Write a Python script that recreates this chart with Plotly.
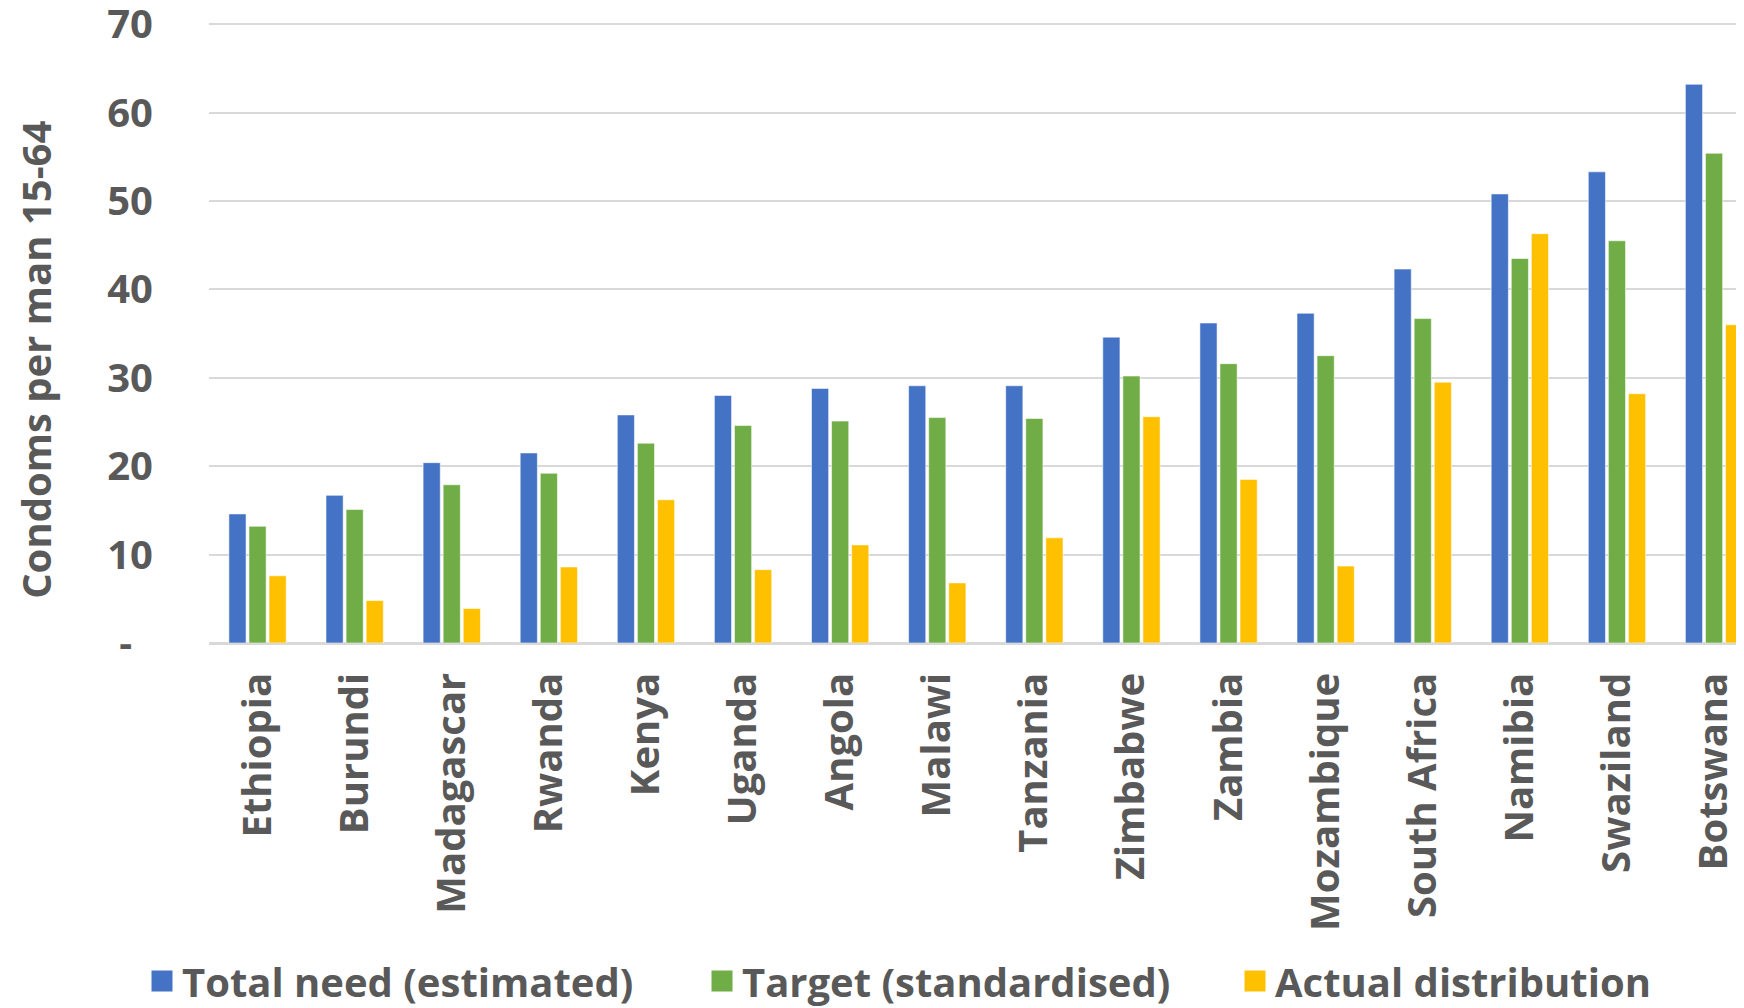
import plotly.graph_objects as go

countries = ["Ethiopia", "Burundi", "Madagascar", "Rwanda", "Kenya", "Uganda", "Angola",
             "Malawi", "Tanzania", "Zimbabwe", "Zambia", "Mozambique", "South Africa",
             "Namibia", "Swaziland", "Botswana"]
total_need = [14.6, 16.7, 20.4, 21.5, 25.8, 28.0, 28.8, 29.1, 29.1, 34.6, 36.2, 37.3, 42.3, 50.8, 53.3, 63.2]
target = [13.2, 15.1, 17.9, 19.2, 22.6, 24.6, 25.1, 25.5, 25.4, 30.2, 31.6, 32.5, 36.7, 43.5, 45.5, 55.4]
actual = [7.6, 4.8, 3.9, 8.6, 16.2, 8.3, 11.1, 6.8, 11.9, 25.6, 18.5, 8.7, 29.5, 46.3, 28.2, 36.0]

series_names = ["Total need (estimated)", "Target (standardised)", "Actual distribution"]
series_colors = ["#4472C4", "#70AD47", "#FFC000"]
y_tickvals = [0, 10, 20, 30, 40, 50, 60, 70]
y_ticktext = ["-\u00a0\u00a0", "10", "20", "30", "40", "50", "60", "70"]

# the page body keeps an 8px margin, so the figure is sized to fill the rest of the window
W, H = 1736, 1000
TEXT = "#595959"
FONT = "Open Sans"

fig = go.Figure()
for name, vals, col in zip(series_names, [total_need, target, actual], series_colors):
    fig.add_trace(go.Bar(
        x=countries, y=vals, name=name, showlegend=False,
        marker=dict(color=col, line=dict(color="rgba(255,255,255,0.55)", width=1)),
    ))

legend_x = [134, 694, 1227]
legend_keys = ["legend", "legend2", "legend3"]
for name, col, key in zip(series_names, series_colors, legend_keys):
    fig.add_trace(go.Scatter(
        x=[None], y=[None], mode="markers", name=name, legend=key, showlegend=True,
        marker=dict(symbol="square", size=16, color=col, line=dict(color=col, width=5)),
    ))

plot_left = 201
plot_bottom = 635
y_top_val = 70.25
px_per_unit = (635 - 16.5) / 70
plot_top = 16.5 - (y_top_val - 70) * px_per_unit
cat_w = 97.1
right_val = -0.5 + (W - plot_left) / cat_w

legend_common = dict(orientation="h", xref="container", yref="container",
                     xanchor="left", yanchor="middle", y=1 - 973 / H,
                     font=dict(family=FONT, size=40, color=TEXT, weight="bold"),
                     bgcolor="rgba(0,0,0,0)", borderwidth=0)

fig.update_layout(
    width=W, height=H,
    margin=dict(l=plot_left, r=0, t=plot_top, b=H - plot_bottom, pad=0, autoexpand=False),
    paper_bgcolor="white", plot_bgcolor="white",
    barmode="group", bargap=0.38, bargroupgap=0.145,
    xaxis=dict(
        range=[-0.5, right_val], tickangle=-90, automargin=False,
        tickfont=dict(family=FONT, size=40, color=TEXT, weight="bold"),
        showgrid=False, showline=True, linecolor="#d9d9d9", linewidth=1.5,
        ticks="", ticklabelstandoff=12, ticklabeloverflow="allow",
    ),
    yaxis=dict(
        range=[0, y_top_val], tickvals=y_tickvals, ticktext=y_ticktext, automargin=False,
        tickfont=dict(family=FONT, size=40, color=TEXT, weight="bold"),
        showgrid=True, gridcolor="#d9d9d9", gridwidth=1.5,
        zeroline=True, zerolinecolor="#d9d9d9", zerolinewidth=1.5,
        showline=False, ticks="", ticklabelstandoff=55, ticklabeloverflow="allow",
    ),
    legend=dict(x=legend_x[0] / W, **legend_common),
    legend2=dict(x=legend_x[1] / W, **legend_common),
    legend3=dict(x=legend_x[2] / W, **legend_common),
    annotations=[dict(
        text="Condoms per man 15-64", textangle=-90, showarrow=False,
        xref="paper", yref="paper",
        x=(28 - plot_left) / (W - plot_left), y=(plot_bottom - 352) / (plot_bottom - plot_top),
        xanchor="center", yanchor="middle",
        font=dict(family=FONT, size=40, color=TEXT, weight="bold"),
    )],
)

fig.write_html("out.html")
